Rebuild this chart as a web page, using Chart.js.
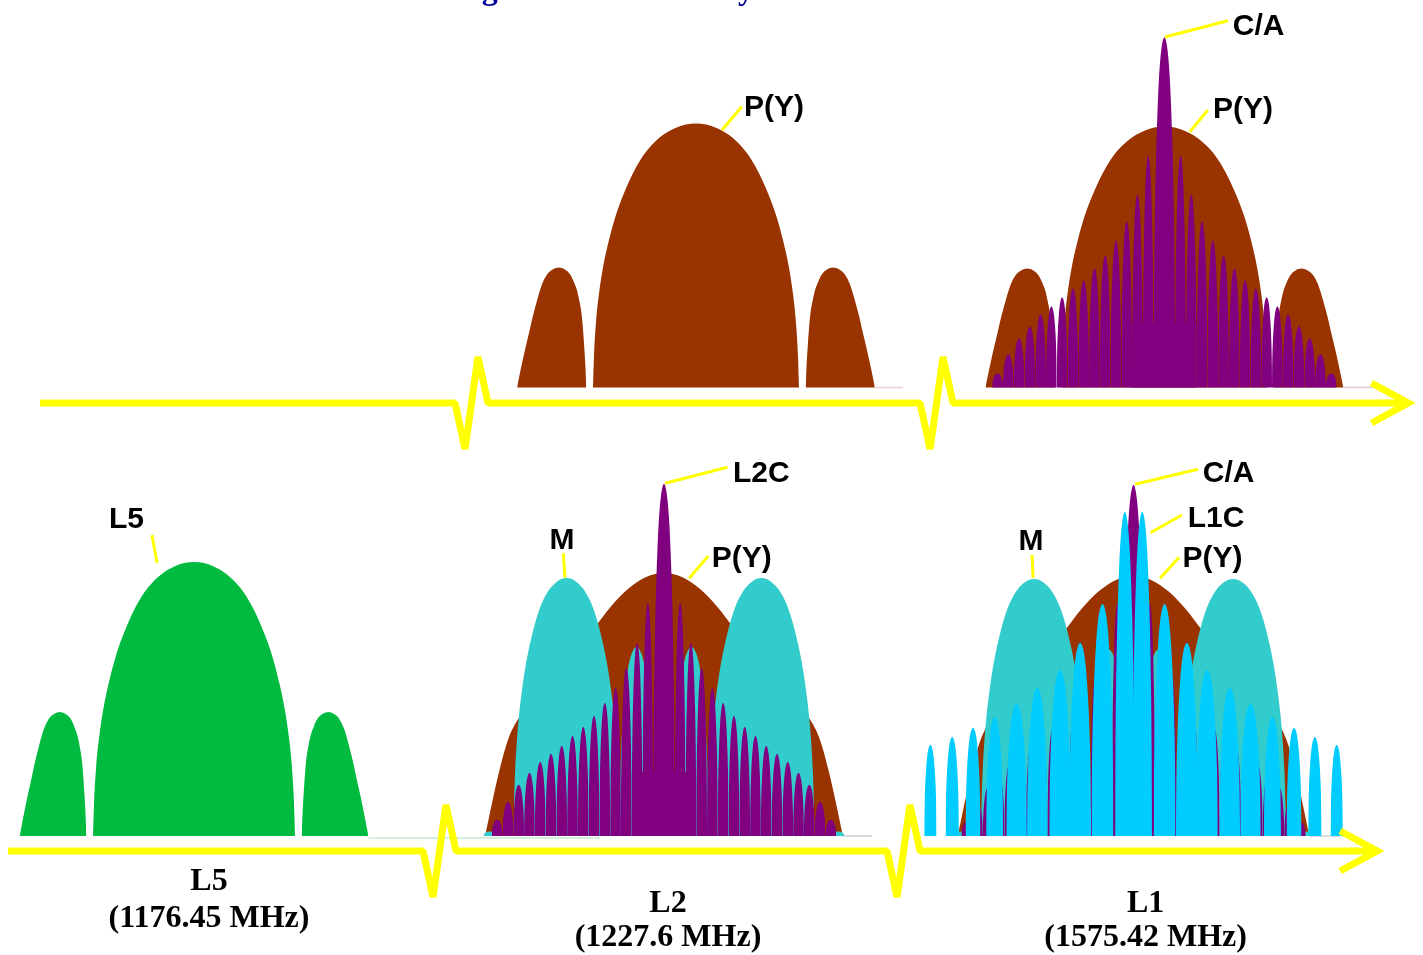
<!DOCTYPE html>
<html>
<head>
<meta charset="utf-8">
<title>GPS signal spectra</title>
<script src="https://cdn.jsdelivr.net/npm/chart.js@4.4.1/dist/chart.umd.min.js"></script>
<style>
  html, body { margin: 0; padding: 0; background: #ffffff; overflow: hidden; }
  #spectrumChart { display: block; }
</style>
</head>
<body>
<canvas id="spectrumChart" width="1423" height="955"></canvas>
<script>
// Shapes
// main lobe outline: [fraction of half width from centre, fraction of peak]
const lobeProfile = [[0, 1], [0.1, 0.996], [0.2, 0.983], [0.3, 0.962], [0.4, 0.93], [0.5, 0.885], [0.6, 0.82], [0.7, 0.735], [0.78, 0.65], [0.85, 0.55], [0.9, 0.46], [0.94, 0.36], [0.97, 0.25], [0.99, 0.12], [1, 0]];
// first sidelobe outline: [0 = inner null .. 1 = outer null, fraction of peak]
const sideLobeProfile = [[0, 0], [0.015, 0.2], [0.03, 0.34], [0.05, 0.5], [0.07, 0.62], [0.1, 0.72], [0.135, 0.81], [0.18, 0.88], [0.23, 0.94], [0.3, 0.98], [0.4, 1], [0.48, 0.985], [0.57, 0.94], [0.64, 0.86], [0.71, 0.73], [0.77, 0.6], [0.83, 0.45], [0.88, 0.33], [0.93, 0.2], [0.97, 0.09], [1, 0]];
// the single wide P(Y) hump of the lower row
const humpProfile = [[0, 1], [0.1, 0.985], [0.2, 0.94], [0.3, 0.87], [0.38, 0.8], [0.5, 0.7], [0.6, 0.62], [0.7, 0.54], [0.8, 0.46], [0.87, 0.37], [0.92, 0.25], [0.96, 0.13], [1, 0]];

// Upper row (MHz from carrier, dB above floor)
// P(Y): main half width, main peak, sidelobe inner null, outer null, sidelobe peak
const pyUpperL2 = [10.05, 26.4, 10.7, 17.45, 12.0];
const pyUpperL1 = [10.05, 26.1, 10.7, 17.45, 11.9];
// C/A comb peaks: centre line, then lines 1..15 out on each side
const caUpperL1 = [35.0, 23.2, 19.3, 16.6, 14.7, 13.2, 11.9, 10.7, 9.9, 9.0, 8.1, 7.3, 6.1, 4.9, 3.3, 1.4];

// Lower row
const l5Lower = [9.85, 27.4, 10.5, 17.0, 12.4];
const pyLowerL2 = [17.45, 26.3];   // half width, peak
const pyLowerL1 = [17.15, 26.0];
// M code: main lobe offset, half width, peak | inner lobe offset, half width, peak | edge bump offset, half width, peak
const mLowerL2 = [9.51, 5.17, 25.8, 2.68, 1.66, 18.9, 17.0, 0.6, 0.45];
const mLowerL1 = [9.71, 5.17, 25.7, 2.36, 1.5, 18.6, 17.0, 0.6, 0.45];
const l2cLowerL2 = [35.2, 23.3, 19.3, 16.8, 14.8, 13.3, 12.0, 10.9, 10.0, 9.0, 8.2, 7.4, 6.3, 5.1, 3.4, 1.6];
const caLowerL1 = [35.1, 23.2, 19.3, 16.6, 14.7, 13.2, 11.9, 10.7, 9.9, 9.0, 8.1, 7.3, 6.1, 4.9, 3.3, 1.4];
// L1C lines: offset from carrier (MHz), peak (dB), half width (MHz)
const l1cOffsets = [0.85, 3.03, 5.21, 7.17, 9.39, 11.41, 13.55, 15.66, 17.69, 19.82];
const l1cPeaks = [32.4, 23.2, 19.3, 16.6, 14.8, 13.2, 11.9, 10.8, 9.9, 9.1];
const l1cHalfWidths = [0.95, 1.07, 1.07, 1.05, 1.0, 1.0, 0.83, 0.73, 0.65, 0.6];
const combSpacing = 1.05;          // MHz between comb nulls
const combPedestal = [3.15, 6.45]; // half width (MHz), level (dB) the centre nulls stop at

const bandCaptions = { L5: ['L5', '(1176.45 MHz)'], L2: ['L2', '(1227.6 MHz)'], L1: ['L1', '(1575.42 MHz)'] };
const titleText = 'GPS Signal Band Diversity';

// Layout of the broken frequency axis (display MHz)
const upperCentres = { L2: 67.9, L1: 113.6 };
const lowerCentres = { L5: 18.93, L2: 64.78, L1: 110.59 };
// start, first break, second break, arrow tip, level (dB)
const upperAxis = [3.9, 44.39, 89.76, 137.4, -1.55];
const lowerAxis = [0.78, 41.27, 86.54, 134.35, -1.5];
const breakShape = [[0, 0], [0.98, -4.6], [2.24, 4.6], [3.22, 0]];
const arrowHead = [3.6, 2.0];

const BROWN = '#993300', PURPLE = '#800080', TEAL = '#33CCCC', CYAN = '#00CCFF', GREEN = '#00BB3F', YELLOW = '#FFFF00';

function mirrored(profile, centre, halfWidth, peak) {
    const pts = [];
    for (let i = profile.length - 1; i > 0; i--) pts.push({ x: centre - profile[i][0] * halfWidth, y: profile[i][1] * peak });
    for (let i = 0; i < profile.length; i++) pts.push({ x: centre + profile[i][0] * halfWidth, y: profile[i][1] * peak });
    return pts;
}

function sideLobe(centre, side, inner, outer, peak) {
    const pts = sideLobeProfile.map(([t, h]) => ({ x: centre + side * (inner + t * (outer - inner)), y: h * peak }));
    return side < 0 ? pts.reverse() : pts;
}

const datasets = [];

function addArea(points, colour, axis, order, smooth = true) {
    datasets.push({
        data: points, yAxisID: axis, order,
        backgroundColor: colour, borderColor: 'rgba(0,0,0,0)', borderWidth: 0,
        fill: 'origin', pointRadius: 0, tension: 0,
        cubicInterpolationMode: smooth ? 'monotone' : 'default'
    });
}

function addLine(points, colour, axis, order, width, join) {
    datasets.push({
        data: points, yAxisID: axis, order,
        borderColor: colour, backgroundColor: colour, borderWidth: width,
        borderJoinStyle: join, borderCapStyle: 'butt',
        fill: false, pointRadius: 0, tension: 0
    });
}

function addPY(c, spec, colour, axis) {
    addArea(mirrored(lobeProfile, c, spec[0], spec[1]), colour, axis, 8);
    addArea(sideLobe(c, -1, spec[2], spec[3], spec[4]), colour, axis, 8);
    addArea(sideLobe(c, 1, spec[2], spec[3], spec[4]), colour, axis, 8);
}

function addComb(c, heights, axis) {
    addArea(mirrored(lobeProfile, c, combSpacing, heights[0]), PURPLE, axis, 6);
    for (let k = 1; k < heights.length; k++) {
        const off = (k + 0.5) * combSpacing;
        addArea(mirrored(lobeProfile, c - off, combSpacing / 2, heights[k]), PURPLE, axis, 6);
        addArea(mirrored(lobeProfile, c + off, combSpacing / 2, heights[k]), PURPLE, axis, 6);
    }
    const [hw, lvl] = combPedestal;
    addArea([{ x: c - hw, y: 0 }, { x: c - hw, y: lvl }, { x: c + hw, y: lvl }, { x: c + hw, y: 0 }], PURPLE, axis, 6, false);
}

function addM(c, spec, axis) {
    for (let j = 0; j < spec.length; j += 3) {
        [-1, 1].forEach(s => addArea(mirrored(lobeProfile, c + s * spec[j], spec[j + 1], spec[j + 2]), TEAL, axis, 7));
    }
}

function brokenAxis(spec) {
    const [start, b1, b2, tip, level] = spec;
    const pts = [{ x: start, y: level }];
    [b1, b2].forEach(b => breakShape.forEach(([dx, dy]) => pts.push({ x: b + dx, y: level + dy })));
    pts.push({ x: tip - 0.3, y: level });
    return pts;
}

function arrowPoints(spec) {
    const tip = spec[3], level = spec[4];
    return [
        { x: tip - arrowHead[0], y: level + arrowHead[1] },
        { x: tip, y: level },
        { x: tip - arrowHead[0], y: level - arrowHead[1] }
    ];
}

// faint floor lines right of each plot
const floorLines = [
    ['yUp', upperCentres.L2, 17.45, 20.2, '#ecd2d2', 0],
    ['yUp', upperCentres.L1, 17.45, 20.35, '#e0c8dc', 0],
    ['yLow', lowerCentres.L5, 17.0, 39.6, '#c4ecd2', -0.2],
    ['yLow', lowerCentres.L2, 17.45, 20.3, '#d4c8d4', 0],
    ['yLow', lowerCentres.L1, 17.15, 20.1, '#d0d0d8', 0]
];
floorLines.forEach(([axis, c, a, b, col, lvl]) => addLine([{ x: c + a, y: lvl }, { x: c + b, y: lvl }], col, axis, 9, 1.5, 'miter'));

// upper row
addPY(upperCentres.L2, pyUpperL2, BROWN, 'yUp');
addPY(upperCentres.L1, pyUpperL1, BROWN, 'yUp');
addComb(upperCentres.L1, caUpperL1, 'yUp');

// lower row
addPY(lowerCentres.L5, l5Lower, GREEN, 'yLow');
addArea(mirrored(humpProfile, lowerCentres.L2, pyLowerL2[0], pyLowerL2[1]), BROWN, 'yLow', 8);
addM(lowerCentres.L2, mLowerL2, 'yLow');
addComb(lowerCentres.L2, l2cLowerL2, 'yLow');
addArea(mirrored(humpProfile, lowerCentres.L1, pyLowerL1[0], pyLowerL1[1]), BROWN, 'yLow', 8);
addM(lowerCentres.L1, mLowerL1, 'yLow');
addComb(lowerCentres.L1, caLowerL1, 'yLow');
l1cOffsets.forEach((off, i) => {
    [-1, 1].forEach(s => addArea(mirrored(lobeProfile, lowerCentres.L1 + s * off, l1cHalfWidths[i], l1cPeaks[i]), CYAN, 'yLow', 5));
});

// yellow frequency axes
addLine(brokenAxis(upperAxis), YELLOW, 'yUp', 4, 7, 'bevel');
addLine(arrowPoints(upperAxis), YELLOW, 'yUp', 4, 7, 'miter');
addLine(brokenAxis(lowerAxis), YELLOW, 'yLow', 4, 7, 'bevel');
addLine(arrowPoints(lowerAxis), YELLOW, 'yLow', 4, 7, 'miter');

// callouts: text, band, anchor dx/dy, line end dx/dy, text dx/baseline dy, align
const upperCallouts = [
    ['P(Y)', 'L2', 2.54, 25.75, 4.46, 28.08, 4.68, 27.15, 'left'],
    ['C/A', 'L1', 0.05, 35.05, 6.2, 36.68, 6.68, 35.3, 'left'],
    ['P(Y)', 'L1', 2.49, 25.58, 4.24, 27.75, 4.73, 26.95, 'left']
];
const lowerCallouts = [
    ['L5', 'L5', -3.61, 27.3, -4.1, 30.1, -6.59, 30.8, 'center'],
    ['L2C', 'L2', 0.1, 35.27, 6.2, 36.87, 6.73, 35.45, 'left'],
    ['M', 'L2', -9.66, 25.83, -9.82, 28.27, -9.95, 28.7, 'center'],
    ['P(Y)', 'L2', 2.46, 25.77, 4.31, 28.0, 4.65, 26.9, 'left'],
    ['C/A', 'L1', 0.14, 35.17, 6.29, 36.67, 6.75, 35.45, 'left'],
    ['L1C', 'L1', 1.66, 30.33, 4.71, 32.1, 5.29, 30.9, 'left'],
    ['P(Y)', 'L1', 2.59, 25.77, 4.44, 27.87, 4.78, 26.9, 'left'],
    ['M', 'L1', -9.8, 25.8, -9.9, 28.1, -10.0, 28.6, 'center']
];
// caption: band, dx, name baseline, frequency baseline
const captionLayout = [['L5', 1.46, -5.4, -9.1], ['L2', 0.39, -7.55, -11.0], ['L1', 1.18, -7.55, -11.0]];
const titleMarks = [47.8, 72.8]; // where the 'g' and the 'y' of the title sit

const LABEL_FONT = 'bold 30px "Liberation Sans", Arial, sans-serif';
const CAPTION_FONT = 'bold 32px "Liberation Serif", "Times New Roman", serif';

const annotationPlugin = {
    id: 'annotations',
    afterDatasetsDraw(chart) {
        const { ctx, scales } = chart;
        const xs = scales.x;
        ctx.save();

        function callout(c, centres, ys) {
            const [text, band, ax, ay, ex, ey, tx, ty, align] = c;
            const cx = centres[band];
            ctx.strokeStyle = YELLOW;
            ctx.lineWidth = 3;
            ctx.beginPath();
            ctx.moveTo(xs.getPixelForValue(cx + ax), ys.getPixelForValue(ay));
            ctx.lineTo(xs.getPixelForValue(cx + ex), ys.getPixelForValue(ey));
            ctx.stroke();
            ctx.fillStyle = '#000000';
            ctx.font = LABEL_FONT;
            ctx.textAlign = align;
            ctx.textBaseline = 'alphabetic';
            ctx.fillText(text, xs.getPixelForValue(cx + tx), ys.getPixelForValue(ty));
        }
        upperCallouts.forEach(c => callout(c, upperCentres, scales.yUp));
        lowerCallouts.forEach(c => callout(c, lowerCentres, scales.yLow));

        // band captions under the lower axis
        ctx.fillStyle = '#000000';
        ctx.font = CAPTION_FONT;
        ctx.textAlign = 'center';
        captionLayout.forEach(([band, dx, y1, y2]) => {
            const px = xs.getPixelForValue(lowerCentres[band] + dx);
            ctx.fillText(bandCaptions[band][0], px, scales.yLow.getPixelForValue(y1));
            ctx.fillText(bandCaptions[band][1], px, scales.yLow.getPixelForValue(y2));
        });

        // title, cut off by the top edge: only descenders show
        ctx.font = 'bold 40px "Liberation Serif", serif';
        const gi = titleText.indexOf('g'), yi = titleText.lastIndexOf('y');
        const gC = ctx.measureText(titleText.slice(0, gi)).width + ctx.measureText('g').width / 2;
        const yC = ctx.measureText(titleText.slice(0, yi)).width + ctx.measureText('y').width / 2;
        const p1 = xs.getPixelForValue(titleMarks[0]), p2 = xs.getPixelForValue(titleMarks[1]);
        const size = 40 * (p2 - p1) / (yC - gC);
        ctx.font = 'bold ' + size.toFixed(1) + 'px "Liberation Serif", serif';
        ctx.fillStyle = '#000099';
        ctx.textAlign = 'left';
        ctx.fillText(titleText, p1 - gC * size / 40, 6.5 - 0.22 * size);

        ctx.restore();
    }
};

new Chart(document.getElementById('spectrumChart').getContext('2d'), {
    type: 'line',
    data: { datasets },
    options: {
        responsive: false,
        maintainAspectRatio: false,
        animation: false,
        events: [],
        layout: { padding: 0 },
        scales: {
            x: { type: 'linear', min: 0, max: 138.83, display: false },
            yUp: { type: 'linear', position: 'left', min: -56.75, max: 38.75, display: false },
            yLow: { type: 'linear', position: 'left', min: -11.9, max: 83.6, display: false }
        },
        plugins: {
            legend: { display: false },
            tooltip: { enabled: false }
        }
    },
    plugins: [annotationPlugin]
});
</script>
</body>
</html>
